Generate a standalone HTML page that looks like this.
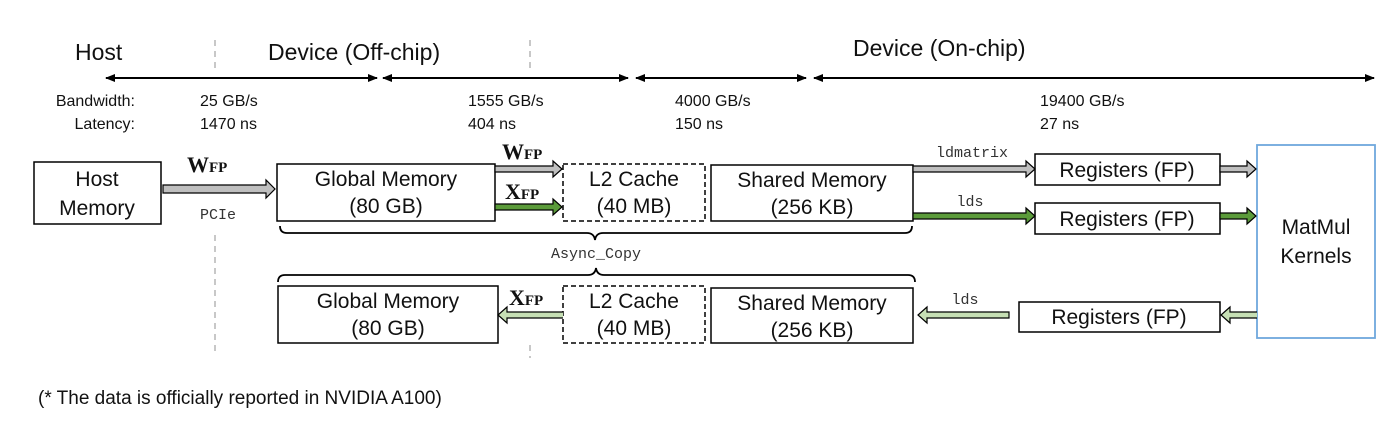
<!DOCTYPE html>
<html><head><meta charset="utf-8"><style>
html,body{margin:0;padding:0;background:#fff;}
svg{display:block}
.c{font-family:"Liberation Sans",sans-serif;fill:#111}
.m{font-family:"Liberation Mono",monospace;fill:#333}
.s{font-family:"Liberation Serif",serif;font-weight:bold;fill:#111}
</style></head><body>
<svg width="1389" height="421" viewBox="0 0 1389 421" xmlns="http://www.w3.org/2000/svg">
<defs>
<marker id="ah" markerWidth="10" markerHeight="10" refX="9" refY="5" orient="auto-start-reverse" markerUnits="userSpaceOnUse"><path d="M0,1 L10,5 L0,9 Z" fill="#000"/></marker>
</defs>
<text class="c" x="75" y="60" font-size="23">Host</text>
<text class="c" x="268" y="60" font-size="23">Device (Off-chip)</text>
<text class="c" x="853" y="56" font-size="23">Device (On-chip)</text>
<g stroke="#aaa" stroke-width="1.3" stroke-dasharray="6,5">
<line x1="215" y1="40" x2="215" y2="72"/><line x1="215" y1="235" x2="215" y2="352"/>
<line x1="530" y1="40" x2="530" y2="72"/><line x1="530" y1="345" x2="530" y2="358"/>
</g>
<g stroke="#000" stroke-width="2" marker-start="url(#ah)" marker-end="url(#ah)">
<line x1="106" y1="78" x2="377" y2="78"/>
<line x1="383" y1="78" x2="628" y2="78"/>
<line x1="636" y1="78" x2="806" y2="78"/>
<line x1="814" y1="78" x2="1374" y2="78"/>
</g>
<g class="c" font-size="16">
<text x="135" y="106" text-anchor="end">Bandwidth:</text>
<text x="135" y="129" text-anchor="end">Latency:</text>
<text x="200" y="106">25 GB/s</text><text x="200" y="129">1470 ns</text>
<text x="468" y="106">1555 GB/s</text><text x="468" y="129">404 ns</text>
<text x="675" y="106">4000 GB/s</text><text x="675" y="129">150 ns</text>
<text x="1040" y="106">19400 GB/s</text><text x="1040" y="129">27 ns</text>
</g>
<g fill="#fff" stroke="#000" stroke-width="1.5">
<rect x="34" y="162" width="127" height="62"/>
<rect x="277" y="164" width="218" height="57"/>
<rect x="563" y="164" width="142" height="57" stroke-dasharray="5,3"/>
<rect x="711" y="165" width="202" height="56"/>
<rect x="1035" y="154" width="185" height="31"/>
<rect x="1035" y="203" width="185" height="31"/>
<rect x="278" y="286" width="220" height="57"/>
<rect x="563" y="286" width="142" height="57" stroke-dasharray="5,3"/>
<rect x="711" y="288" width="202" height="55"/>
<rect x="1019" y="302" width="201" height="30"/>
</g>
<rect x="1257" y="145" width="118" height="193" fill="#fff" stroke="#6fa8dc" stroke-width="1.8"/>
<g class="c" font-size="21" text-anchor="middle">
<text x="97" y="186">Host</text><text x="97" y="215">Memory</text>
<text x="386" y="186">Global Memory</text><text x="386" y="213">(80 GB)</text>
<text x="634" y="186">L2 Cache</text><text x="634" y="213">(40 MB)</text>
<text x="812" y="187">Shared Memory</text><text x="812" y="214">(256 KB)</text>
<text x="1127" y="177">Registers (FP)</text>
<text x="1127" y="226">Registers (FP)</text>
<text x="388" y="308">Global Memory</text><text x="388" y="335">(80 GB)</text>
<text x="634" y="308">L2 Cache</text><text x="634" y="335">(40 MB)</text>
<text x="812" y="310">Shared Memory</text><text x="812" y="337">(256 KB)</text>
<text x="1119" y="324">Registers (FP)</text>
<text x="1316" y="234">MatMul</text><text x="1316" y="263">Kernels</text>
</g>
<g stroke="#000" stroke-width="1.2">
<path d="M163,185 h103 v-5 l9,9 l-9,9 v-5 h-103 z" fill="#bfbfbf"/>
<path d="M495,166 h58 v-5 l9,8 l-9,8 v-5 h-58 z" fill="#bfbfbf"/>
<path d="M495,204 h58 v-5 l9,8 l-9,8 v-5 h-58 z" fill="#5b9b3a"/>
<path d="M913,166 h113 v-5 l9,8 l-9,8 v-5 h-113 z" fill="#bfbfbf"/>
<path d="M913,213 h113 v-5 l9,8 l-9,8 v-5 h-113 z" fill="#5b9b3a"/>
<path d="M1220,166 h27 v-5 l9,8 l-9,8 v-5 h-27 z" fill="#bfbfbf"/>
<path d="M1220,213 h27 v-5 l9,8 l-9,8 v-5 h-27 z" fill="#5b9b3a"/>
<path d="M563,312 h-56 v-5 l-9,8 l9,8 v-5 h56" fill="#c6dfb4"/>
<path d="M1009,312 h-82 v-5 l-9,8 l9,8 v-5 h82 z" fill="#c6dfb4"/>
<path d="M1257,312 h-27 v-5 l-9,8 l9,8 v-5 h27" fill="#c6dfb4"/>
</g>
<text class="s" x="187" y="172" font-size="22">W<tspan font-size="15">FP</tspan></text>
<text class="m" x="218" y="219" font-size="15" text-anchor="middle">PCIe</text>
<text class="s" x="502" y="159" font-size="22">W<tspan font-size="15">FP</tspan></text>
<text class="s" x="505" y="199" font-size="22">X<tspan font-size="15">FP</tspan></text>
<text class="s" x="509" y="305" font-size="22">X<tspan font-size="15">FP</tspan></text>
<text class="m" x="972" y="157" font-size="15" text-anchor="middle">ldmatrix</text>
<text class="m" x="970" y="206" font-size="15" text-anchor="middle">lds</text>
<text class="m" x="965" y="304" font-size="15" text-anchor="middle">lds</text>
<text class="m" x="596" y="258" font-size="15" text-anchor="middle">Async_Copy</text>
<g fill="none" stroke="#000" stroke-width="1.8">
<path d="M280,226 q0,7 7,7 h300 q7,0 8,7 q1,-7 8,-7 h302 q7,0 7,-7"/>
<path d="M278,282 q0,-7 7,-7 h303 q7,0 8,-7 q1,7 8,7 h304 q7,0 7,7"/>
</g>
<text class="c" x="38" y="404" font-size="19">(* The data is officially reported in NVIDIA A100)</text>
</svg>
</body></html>
